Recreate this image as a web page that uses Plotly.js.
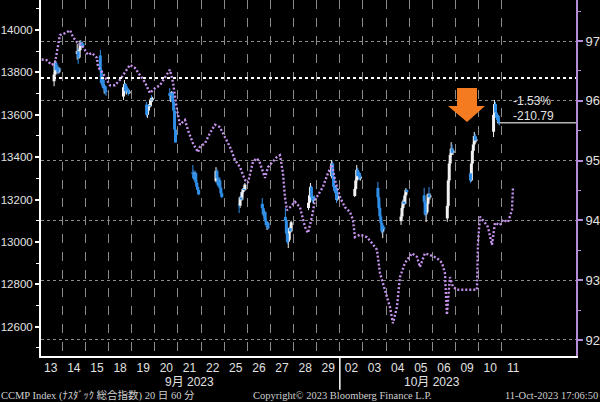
<!DOCTYPE html>
<html><head><meta charset="utf-8">
<script src="https://cdn.plot.ly/plotly-3.0.1.min.js"></script>
<style>html,body{margin:0;padding:0;background:#000;overflow:hidden;}</style>
</head><body><div id="chart" style="width:600px;height:402px;"></div>
<script>
// Trading days shown on the axis (Sep 13 .. Oct 11, 2023)
const dayLabels = ['13','14','15','18','19','20','21','22','25','26','27','28','29','02','03','04','05','06','09','10','11'];
const monthLabels = ['9月 2023', '10月 2023'];
const monthDayCount = [13, 8];
// 60-minute bars, start hour (ET) of each bar in a session
const barHours = [9.5, 10.5, 11.5, 12.5, 13.5, 14.5, 15.5];
// CCMP hourly OHLC, 7 bars per day, Sep 13 .. Oct 10
const open = [
 13758,13790,13845,13810,13820,13800,13818,
 13887,13900,13870,13905,13940,13925,13935,
 13880,13810,13750,13765,13728,13735,13712,
 13686,13730,13745,13712,13722,13715,13702,
 13648,13600,13620,13645,13640,13672,13668,
 13702,13690,13698,13705,13660,13620,13530,
 13329,13320,13300,13325,13280,13260,13245,
 13287,13335,13300,13270,13290,13255,13230,
 13172,13170,13210,13200,13235,13250,13245,
 13180,13160,13130,13140,13100,13080,13090,
 13118,13100,13040,13000,13010,13065,13050,
 13160,13185,13220,13260,13210,13195,13210,
 13310,13370,13310,13260,13240,13255,13200,
 13217,13250,13290,13340,13310,13325,13300,
 13255,13210,13160,13120,13090,13050,13070,
 13098,13120,13160,13190,13180,13220,13245,
 13220,13190,13130,13140,13180,13225,13210,
 13111,13170,13290,13370,13410,13440,13420,
 13324,13290,13370,13430,13460,13500,13478,
 13520,13600,13650,13610,13585,13595,13565
];
const high = [
 13800,13858,13850,13830,13835,13825,13822,
 13935,13915,13910,13953,13950,13945,13940,
 13906,13820,13775,13770,13745,13740,13730,
 13740,13764,13750,13730,13735,13725,13718,
 13660,13625,13650,13665,13680,13693,13685,
 13726,13705,13712,13710,13690,13630,13545,
 13363,13340,13330,13335,13295,13275,13255,
 13353,13345,13310,13300,13305,13265,13240,
 13185,13215,13235,13240,13255,13265,13278,
 13207,13175,13150,13145,13115,13095,13095,
 13160,13110,13055,13020,13070,13085,13100,
 13195,13230,13278,13265,13230,13215,13220,
 13387,13380,13320,13280,13265,13260,13230,
 13260,13300,13363,13350,13335,13330,13315,
 13283,13220,13175,13130,13100,13075,13080,
 13130,13170,13200,13215,13230,13254,13250,
 13255,13200,13150,13190,13230,13259,13230,
 13180,13300,13380,13420,13471,13460,13440,
 13340,13380,13440,13470,13519,13510,13495,
 13610,13670,13660,13630,13605,13600,13580
];
const low = [
 13735,13785,13800,13795,13790,13795,13805,
 13860,13840,13865,13900,13915,13920,13915,
 13800,13740,13735,13720,13700,13695,13690,
 13670,13720,13700,13695,13705,13690,13698,
 13590,13585,13610,13630,13635,13660,13660,
 13670,13660,13680,13650,13600,13520,13469,
 13300,13290,13295,13270,13250,13230,13221,
 13280,13290,13260,13265,13250,13220,13207,
 13136,13160,13195,13195,13225,13235,13240,
 13150,13120,13110,13095,13070,13056,13060,
 13090,13030,12990,12971,13005,13040,13045,
 13150,13160,13210,13200,13185,13180,13195,
 13300,13300,13250,13230,13200,13184,13195,
 13212,13245,13280,13300,13295,13290,13290,
 13200,13150,13110,13080,13040,13018,13045,
 13080,13110,13150,13170,13175,13210,13225,
 13180,13120,13094,13135,13175,13200,13200,
 13095,13160,13280,13360,13400,13415,13410,
 13278,13285,13365,13420,13455,13470,13470,
 13495,13590,13600,13575,13560,13555,13550
];
const close = [
 13790,13845,13810,13820,13800,13818,13814,
 13900,13870,13905,13940,13925,13935,13926,
 13810,13750,13765,13728,13735,13712,13708,
 13730,13745,13712,13722,13715,13702,13710,
 13600,13620,13645,13640,13672,13668,13678,
 13690,13698,13705,13660,13620,13530,13469,
 13320,13300,13325,13280,13260,13245,13224,
 13335,13300,13270,13290,13255,13230,13212,
 13170,13210,13200,13235,13250,13245,13271,
 13160,13130,13140,13100,13080,13090,13064,
 13100,13040,13000,13010,13065,13050,13093,
 13185,13220,13260,13210,13195,13210,13201,
 13370,13310,13260,13240,13255,13200,13219,
 13250,13290,13340,13310,13325,13300,13308,
 13210,13160,13120,13090,13050,13070,13059,
 13120,13160,13190,13180,13220,13245,13236,
 13190,13130,13140,13180,13225,13210,13220,
 13170,13290,13370,13410,13440,13420,13431,
 13290,13370,13430,13460,13500,13478,13484,
 13600,13650,13610,13585,13595,13565,13562.84
];
// start-of-period close (reference line)
const baseClose = 13773.63;
// second security (right axis): time in trading-day units and value
const purpleT = [0.108,0.324,0.540,0.683,0.899,1.115,1.332,1.461,1.634,1.850,1.980,2.110,2.283,2.499,2.542,2.758,3.061,3.277,3.493,3.709,3.925,4.142,4.358,4.574,4.790,5.006,5.222,5.438,5.654,5.785,5.958,6.087,6.303,6.433,6.649,6.866,6.952,7.169,7.385,7.601,7.817,8.033,8.249,8.465,8.682,8.898,9.028,9.244,9.417,9.546,9.763,9.892,10.065,10.281,10.411,10.541,10.627,10.714,10.843,11.060,11.276,11.492,11.622,11.795,11.924,12.054,12.270,12.486,12.659,12.789,13.005,13.221,13.437,13.567,13.653,13.870,14.172,14.388,14.604,14.734,14.950,15.166,15.296,15.469,15.599,15.815,16.118,16.334,16.463,16.679,16.895,17.198,17.414,17.544,17.630,17.760,17.890,18.063,18.409,18.928,18.971,19.058,19.274,19.404,19.577,19.706,19.922,20.052,20.268,20.441,20.484];
const purpleV = [96.69,96.68,96.60,96.63,97.10,97.13,97.18,97.07,96.98,96.93,96.85,96.77,96.80,96.72,96.57,96.46,96.26,96.26,96.35,96.48,96.60,96.55,96.43,96.31,96.13,96.21,96.26,96.40,96.52,96.31,95.85,95.60,95.68,95.51,95.29,95.14,95.23,95.29,95.46,95.60,95.56,95.39,95.23,95.01,94.89,94.68,94.63,94.98,95.04,94.96,94.71,94.89,94.96,95.06,95.09,94.79,94.39,94.17,94.22,94.31,94.22,93.89,93.79,94.06,94.34,94.42,94.56,94.79,94.93,94.68,94.39,94.22,94.14,94.01,93.72,93.76,93.72,93.62,93.51,93.12,92.84,92.55,92.28,92.55,93.05,93.29,93.45,93.39,93.22,93.45,93.42,93.37,93.29,93.12,92.42,93.05,92.89,92.84,92.84,92.84,93.62,94.06,93.96,93.89,93.59,93.96,93.92,94.01,93.97,94.17,94.54];

// ---- build candles ----
const upWX=[],upWY=[],dnWX=[],dnWY=[],upBX=[],upBY=[],dnBX=[],dnBY=[];
let lastX = 0;
for (let i = 0; i < close.length; i++) {
  const day = Math.floor(i / barHours.length);
  const x = day + (barHours[i % barHours.length] + 6) / 24;
  lastX = x;
  const up = close[i] >= open[i];
  (up ? upWX : dnWX).push(x, x, null);
  (up ? upWY : dnWY).push(low[i], high[i], null);
  (up ? upBX : dnBX).push(x, x, null);
  (up ? upBY : dnBY).push(open[i], close[i], null);
}
const lastClose = close[close.length - 1];
const chg = lastClose - baseClose;
const pct = chg / baseClose * 100;

const upCol = '#f2f2f2', dnCol = '#2f8fe8', purple = '#c592ec';
const traces = [
  {x: purpleT, y: purpleV, yaxis: 'y2', type: 'scatter', mode: 'lines',
   line: {color: purple, width: 2.4, dash: '2px,2px'}, hoverinfo: 'skip'},
  {x: upWX, y: upWY, type: 'scatter', mode: 'lines', line: {color: upCol, width: 1}, hoverinfo: 'skip'},
  {x: dnWX, y: dnWY, type: 'scatter', mode: 'lines', line: {color: dnCol, width: 1}, hoverinfo: 'skip'},
  {x: upBX, y: upBY, type: 'scatter', mode: 'lines', line: {color: upCol, width: 3}, hoverinfo: 'skip'},
  {x: dnBX, y: dnBY, type: 'scatter', mode: 'lines', line: {color: dnCol, width: 3}, hoverinfo: 'skip'}
];

const xRange = [0.08, 23.21];
const dayCenters = dayLabels.map((d, i) => i + 0.5);
const gridBound = dayLabels.slice(1).map((d, i) => i + 1);
const leftTicks = [12600, 12800, 13000, 13200, 13400, 13600, 13800, 14000];

const txtFont = 'Liberation Sans, Noto Sans CJK JP, sans-serif';
const footFont = 'Liberation Serif, Noto Sans CJK JP, serif';
const labCol = '#e2e2e2';

// month label positions: centre of each month's day slots
let start = 0;
const monthAnn = monthLabels.map((m, j) => {
  const c = start + monthDayCount[j] / 2;
  start += monthDayCount[j];
  return {text: m, x: c, xref: 'x', y: -0.074, yref: 'paper', yanchor: 'middle',
          showarrow: false, borderpad: 0, font: {family: txtFont, size: 12, color: labCol}};
});

const layout = {
  width: 600, height: 402,
  paper_bgcolor: '#000', plot_bgcolor: '#000',
  margin: {l: 41, r: 24, t: 0, b: 46},
  showlegend: false,
  font: {family: txtFont, color: labCol, size: 12},
  xaxis: {
    range: xRange, tickmode: 'array', tickvals: dayCenters, ticktext: dayLabels,
    ticks: '', showgrid: false, zeroline: false, showline: true,
    linecolor: '#ffffff', linewidth: 2, tickfont: {size: 12, color: labCol},
    minor: {tickmode: 'array', tickvals: gridBound, showgrid: true, gridcolor: '#8a8a8a',
            griddash: 'dash', gridwidth: 1, ticks: ''}
  },
  yaxis: {
    range: [12461.7, 14141.6], tickmode: 'array', tickvals: leftTicks, tickformat: 'd',
    ticks: 'outside', ticklen: 4, tickwidth: 2, tickcolor: '#ffffff',
    showline: true, linecolor: '#ffffff', linewidth: 2, showgrid: false, zeroline: false,
    tickfont: {size: 11.5, color: labCol},
    minor: {dtick: 100, tick0: 0, ticks: 'outside', ticklen: 3, tickwidth: 1, tickcolor: '#ffffff', showgrid: false}
  },
  yaxis2: {
    overlaying: 'y', side: 'right', range: [91.732, 97.686], dtick: 1, tick0: 0,
    showgrid: true, gridcolor: '#8a8a8a', griddash: 'dot', gridwidth: 1,
    showline: true, linecolor: '#b58ad8', linewidth: 2,
    ticks: 'outside', ticklen: 5, tickwidth: 2, tickcolor: '#b58ad8', zeroline: false,
    tickfont: {size: 13, color: labCol},
    minor: {dtick: 0.5, tick0: 0, ticks: 'outside', ticklen: 3, tickwidth: 1, tickcolor: '#b58ad8', showgrid: false}
  },
  shapes: [
    {type: 'line', xref: 'paper', x0: 0, x1: 1, yref: 'y', y0: baseClose, y1: baseClose,
     line: {color: '#ffffff', width: 2, dash: 'dot'}},
    {type: 'line', xref: 'x', x0: lastX, x1: xRange[1], yref: 'y', y0: lastClose, y1: lastClose,
     line: {color: '#b4b4b4', width: 1.5}},
    {type: 'line', xref: 'x', x0: monthDayCount[0], x1: monthDayCount[0], yref: 'paper', y0: 0, y1: -0.095,
     line: {color: '#ffffff', width: 1.5}},
    {type: 'path', xref: 'paper', yref: 'paper', fillcolor: '#f47b20', line: {width: 0},
     path: 'M 0.7776 0.7528 L 0.8150 0.7528 L 0.8150 0.7022 L 0.8299 0.7022 L 0.7963 0.6573 L 0.7607 0.7022 L 0.7776 0.7022 Z'}
  ],
  annotations: [
    {text: pct.toFixed(2) + '%', x: 20.4, xref: 'x', xanchor: 'left', y: lastClose, yref: 'y',
     yshift: 22, showarrow: false, font: {family: txtFont, size: 12, color: labCol}},
    {text: chg.toFixed(2), x: 20.4, xref: 'x', xanchor: 'left', y: lastClose, yref: 'y',
     yshift: 7, showarrow: false, font: {family: txtFont, size: 12, color: labCol}},
    ...monthAnn,
    {text: 'CCMP Index (ﾅｽﾀﾞｯｸ 総合指数) 20 日 60 分', xref: 'paper', x: -0.0766, xanchor: 'left',
     yref: 'paper', y: -0.112, yanchor: 'middle', showarrow: false, borderpad: 0, font: {family: footFont, size: 10.5, color: '#cfcfcf'}},
    {text: 'Copyright© 2023 Bloomberg Finance L.P.', xref: 'paper', x: 0.3944, xanchor: 'left',
     yref: 'paper', y: -0.112, yanchor: 'middle', showarrow: false, borderpad: 0, font: {family: footFont, size: 10.5, color: '#cfcfcf'}},
    {text: '11-Oct-2023 17:06:50', xref: 'paper', x: 1.043, xanchor: 'right',
     yref: 'paper', y: -0.112, yanchor: 'middle', showarrow: false, borderpad: 0, font: {family: footFont, size: 10.5, color: '#cfcfcf'}}
  ]
};

Plotly.newPlot('chart', traces, layout, {displayModeBar: false, staticPlot: true});
</script>
</body></html>
